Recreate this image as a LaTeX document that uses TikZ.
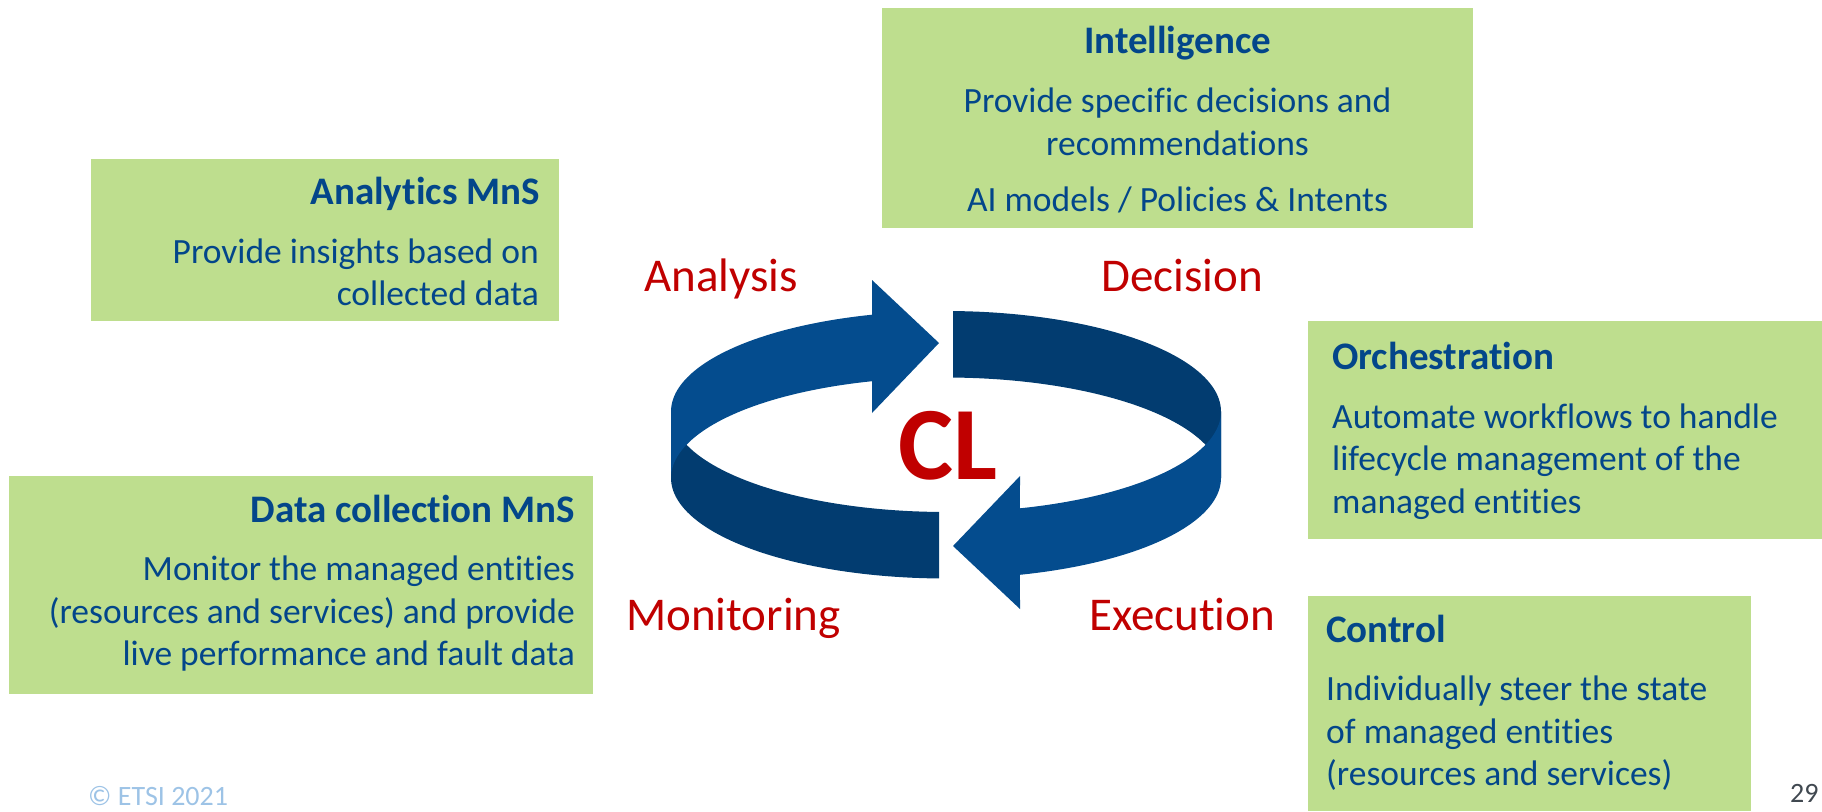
\documentclass[tikz,border=0pt]{standalone}
\usepackage{fontspec}
\setmainfont{Carlito}[Ligatures=NoCommon]
\definecolor{boxgreen}{RGB}{190,222,142}
\definecolor{txtblue}{RGB}{3,70,138}
\definecolor{arrowL}{RGB}{4,76,142}
\definecolor{arrowD}{RGB}{2,60,112}
\definecolor{lblred}{RGB}{192,0,0}
\definecolor{footblue}{RGB}{157,195,230}
\definecolor{numgray}{RGB}{64,72,80}
\tikzset{
  box/.style={fill=boxgreen},
  boxtitle/.style={font={\fontsize{39}{47}\selectfont\bfseries}, text=txtblue, inner sep=0pt},
  boxbody/.style={font={\fontsize{35.5}{42.5}\selectfont}, text=txtblue, inner sep=0pt},
  phase/.style={font={\fontsize{47}{56}\selectfont}, text=lblred, inner sep=0pt, anchor=base west},
  ringL/.style={fill=arrowL},
  ringD/.style={fill=arrowD},
  foot/.style={font={\fontsize{28}{34}\selectfont}, inner sep=0pt, anchor=base west}
}
\begin{document}
\begin{tikzpicture}[x=1pt,y=-1pt]
\useasboundingbox (0,0) rectangle (1822,811);
% ---- boxes ----
\fill[box] (91,159) rectangle (559,321);
\fill[box] (882,8) rectangle (1473,228);
\fill[box] (9,476) rectangle (593,694);
\fill[box] (1308,321) rectangle (1822,539);
\fill[box] (1308,596) rectangle (1751,811);
% Analytics
\node[boxtitle, anchor=base east] (an-t) at (540,204) {Analytics MnS};
\node[boxbody, anchor=base east] (an-1) at (539,263) {Provide insights based on};
\node[boxbody, anchor=base east] (an-2) at (539,305) {collected data};
% Intelligence
\node[boxtitle, anchor=base] (in-t) at (1177.5,53) {Intelligence};
\node[boxbody, anchor=base] (in-1) at (1177.5,112) {Provide specific decisions and};
\node[boxbody, anchor=base] (in-2) at (1177.5,155) {recommendations};
\node[boxbody, anchor=base] (in-3) at (1177.5,211) {AI models / Policies \& Intents};
% Data collection
\node[boxtitle, anchor=base east] (dc-t) at (575,522) {Data collection MnS};
\node[boxbody, anchor=base east] (dc-1) at (575,580) {Monitor the managed entities};
\node[boxbody, anchor=base east] (dc-2) at (575,623) {(resources and services) and provide};
\node[boxbody, anchor=base east] (dc-3) at (575,665) {live performance and fault data};
% Orchestration
\node[boxtitle, anchor=base west] (or-t) at (1332,369) {Orchestration};
\node[boxbody, anchor=base west] (or-1) at (1332,428) {Automate workflows to handle};
\node[boxbody, anchor=base west] (or-2) at (1332,470) {lifecycle management of the};
\node[boxbody, anchor=base west] (or-3) at (1332,513) {managed entities};
% Control
\node[boxtitle, anchor=base west] (co-t) at (1326,642) {Control};
\node[boxbody, anchor=base west] (co-1) at (1326,700) {Individually steer the state};
\node[boxbody, anchor=base west] (co-2) at (1326,743) {of managed entities};
\node[boxbody, anchor=base west] (co-3) at (1326,785) {(resources and services)};
% ---- ring ----
% dark tails
\fill[ringD] plot[domain=271.46:360,samples=50] ({946+275*cos(\x)},{411.5+100.5*sin(\x)})
  -- plot[domain=360:271.46,samples=50] ({946+275*cos(\x)},{478+100.5*sin(\x)}) -- cycle;
\fill[ringD] plot[domain=91.46:180,samples=50] ({946+275*cos(\x)},{411.5+100.5*sin(\x)})
  -- plot[domain=180:91.46,samples=50] ({946+275*cos(\x)},{478+100.5*sin(\x)}) -- cycle;
% light arrows
\fill[ringL] plot[domain=180:254.4,samples=50] ({946+275*cos(\x)},{411.5+100.5*sin(\x)})
  -- (872,280) -- (939,343) -- (872,413)
  -- plot[domain=254.4:180,samples=50] ({946+275*cos(\x)},{478+100.5*sin(\x)}) -- cycle;
\fill[ringL] (1020,476) -- (953,546) -- (1020,609)
  -- plot[domain=74.4:0,samples=50] ({946+275*cos(\x)},{478+100.5*sin(\x)})
  -- plot[domain=0:74.4,samples=50] ({946+275*cos(\x)},{411.5+100.5*sin(\x)}) -- cycle;
% ---- labels ----
\node[phase] (analysis) at (644,291) {Analysis};
\node[phase] (decision) at (1101,291) {Decision};
\node[phase] (monitoring) at (626,630) {Monitoring};
\node[phase] (execution) at (1089,630) {Execution};
\node[font={\fontsize{104}{120}\selectfont\bfseries}, text=lblred, inner sep=0pt, anchor=base] (cl) at (948,479) {CL};
% ---- footer ----
\node[foot, text=footblue] (copy) at (88,805) {© ETSI 2021};
\node[foot, text=numgray] (pnum) at (1790,802) {29};
\end{tikzpicture}
\end{document}
